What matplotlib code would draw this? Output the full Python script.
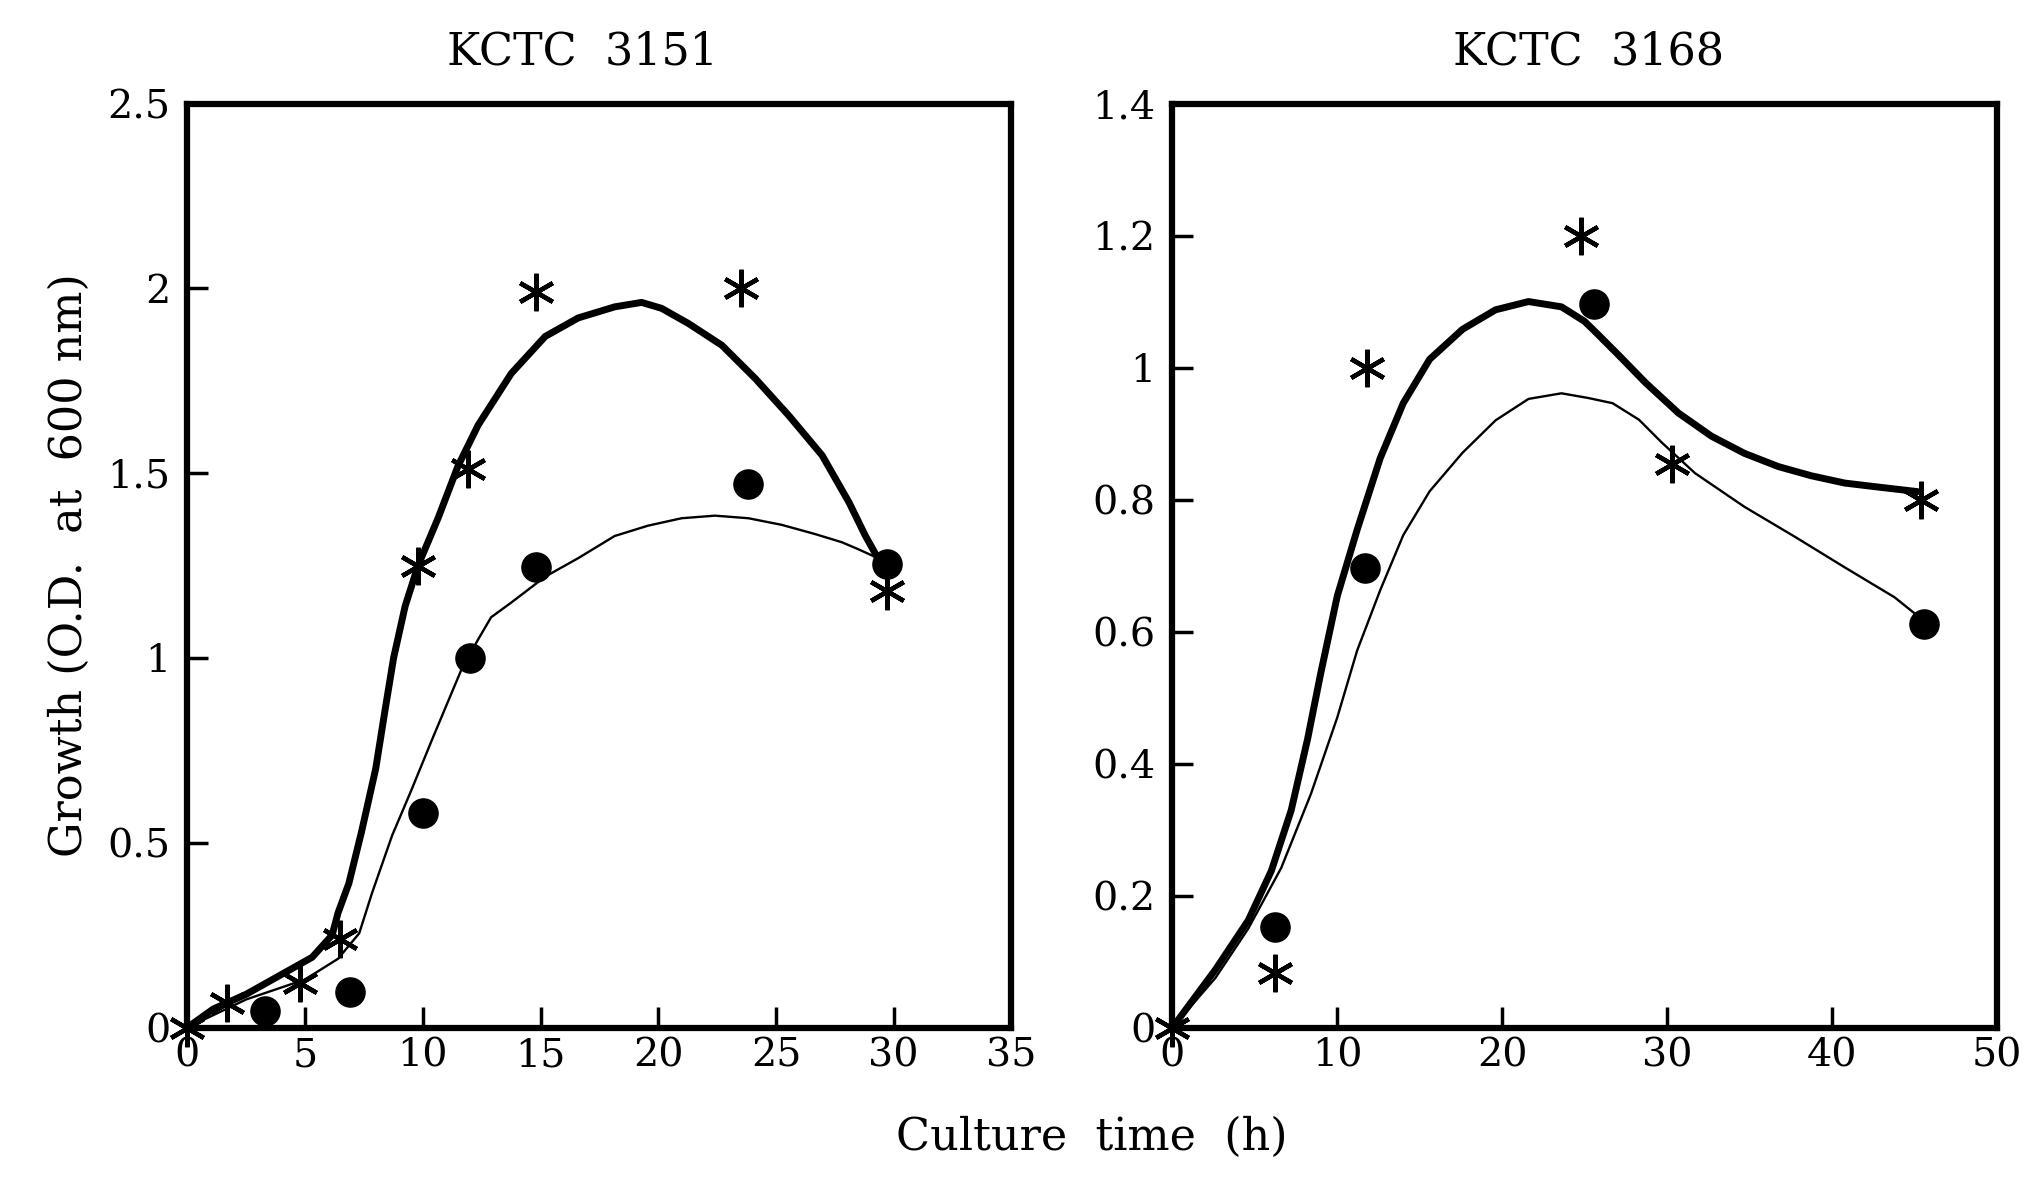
import matplotlib
matplotlib.use("Agg")
import matplotlib.pyplot as plt

plt.rcParams['font.family'] = ['DejaVu Serif']

# KCTC 3151 - measured points
a_star_x = [0, 1.7, 4.8, 6.5, 9.8, 11.9, 14.8, 23.5, 29.7]
a_star_y = [0, 0.065, 0.12, 0.24, 1.25, 1.51, 1.99, 2.0, 1.18]
a_dot_x = [3.3, 6.9, 10.0, 12.0, 14.8, 23.8, 29.7]
a_dot_y = [0.045, 0.095, 0.58, 1.0, 1.245, 1.47, 1.255]

# KCTC 3151 - hand-drawn curves
a_thick_x = [0, 1.1, 2.5, 3.9, 5.3, 6.15, 6.4, 6.86, 7.4, 8.0, 8.4, 8.76, 9.25, 9.8,
             10.66, 11.5, 12.35, 13.76, 15.2, 16.6, 18.15, 19.29, 20.14, 21.28,
             22.7, 24.12, 25.54, 26.96, 28.1, 28.8, 29.5]
a_thick_y = [0, 0.05, 0.09, 0.14, 0.19, 0.25, 0.31, 0.39, 0.53, 0.70, 0.86, 1.0, 1.14, 1.25,
             1.38, 1.52, 1.63, 1.77, 1.87, 1.92, 1.95, 1.962, 1.946, 1.905,
             1.846, 1.756, 1.656, 1.548, 1.421, 1.33, 1.25]
a_thin_x = [0, 2.5, 5.0, 6.4, 7.3, 7.85, 8.7, 9.5, 10.4, 11.65, 12.35, 12.9, 13.76,
            15.2, 16.6, 18.15, 19.57, 20.99, 22.41, 23.83, 25.25, 26.67, 27.8, 28.5, 29.5]
a_thin_y = [0, 0.076, 0.13, 0.186, 0.255, 0.365, 0.52, 0.64, 0.78, 0.97, 1.05, 1.11, 1.15,
            1.22, 1.27, 1.33, 1.358, 1.378, 1.385, 1.378, 1.36, 1.335, 1.313, 1.294, 1.265]

# KCTC 3168 - measured points
b_star_x = [0, 6.2, 11.8, 24.8, 30.3, 45.4]
b_star_y = [0, 0.083, 1.0, 1.2, 0.854, 0.80]
b_dot_x = [6.2, 11.7, 25.6, 45.6]
b_dot_y = [0.152, 0.696, 1.097, 0.612]

# KCTC 3168 - hand-drawn curves
b_thick_x = [0, 2.6, 4.6, 6.0, 7.2, 8.2, 9.0, 10.0, 11.2, 12.6, 14.0, 15.6, 17.6, 19.6,
             21.6, 23.6, 25.0, 25.7, 27.1, 28.7, 30.7, 32.7, 34.7, 36.75, 38.76,
             40.78, 42.79, 45.2]
b_thick_y = [0, 0.0875, 0.1625, 0.2375, 0.329, 0.4375, 0.5375, 0.654, 0.754, 0.8625,
             0.946, 1.0125, 1.058, 1.0875, 1.1, 1.092, 1.07, 1.053, 1.018, 0.977, 0.931,
             0.896, 0.87, 0.85, 0.836, 0.825, 0.819, 0.812]
b_thin_x = [0, 2.6, 4.6, 6.6, 8.4, 10.0, 11.2, 12.6, 14.0, 15.6, 17.6, 19.6, 21.6, 23.6,
            25.2, 26.7, 28.3, 29.7, 31.7, 34.7, 37.8, 40.8, 43.8, 45.5]
b_thin_y = [0, 0.075, 0.15, 0.242, 0.354, 0.47, 0.571, 0.6625, 0.746, 0.8125, 0.871,
            0.92, 0.9525, 0.961, 0.954, 0.946, 0.921, 0.886, 0.84, 0.789, 0.743, 0.697,
            0.652, 0.618]

a_xticks = [0, 5, 10, 15, 20, 25, 30, 35]
a_yticks = [0, 0.5, 1, 1.5, 2, 2.5]
a_ylabels = ['0', '0.5', '1', '1.5', '2', '2.5']
b_xticks = [0, 10, 20, 30, 40, 50]
b_yticks = [0, 0.2, 0.4, 0.6, 0.8, 1, 1.2, 1.4]
b_ylabels = ['0', '0.2', '0.4', '0.6', '0.8', '1', '1.2', '1.4']

fig = plt.figure(figsize=(20.25, 11.77), dpi=100)
ax1 = fig.add_axes([0.0925, 0.127, 0.407, 0.785])
ax2 = fig.add_axes([0.579, 0.127, 0.407, 0.785])

star = (6, 2, 0)


def panel(ax, thick_x, thick_y, thin_x, thin_y, sx, sy, dx, dy, title,
          xt, yt, yl, xmax, ymax, tx):
    ax.plot(thick_x, thick_y, color='black', lw=5, solid_joinstyle='round',
            solid_capstyle='round')
    ax.plot(thin_x, thin_y, color='black', lw=1.7, solid_joinstyle='round')
    ax.plot(dx, dy, 'o', color='black', ms=21, clip_on=False, zorder=5)
    ax.plot(sx, sy, linestyle='none', marker=star, color='black', ms=27,
            mew=3.2, clip_on=False, zorder=6)
    ax.set_xlim(0, xmax)
    ax.set_ylim(0, ymax)
    ax.set_xticks(xt)
    ax.set_xticklabels([str(v) for v in xt])
    ax.set_yticks(yt)
    ax.set_yticklabels(yl)
    ax.tick_params(direction='in', length=15, width=2.5, labelsize=28.5,
                   top=False, right=False)
    ax.tick_params(axis='y', pad=12)
    ax.tick_params(axis='x', pad=7)
    for s in ax.spines.values():
        s.set_linewidth(4.5)
    ax.set_title(title, fontsize=32, pad=28, x=tx)


panel(ax1, a_thick_x, a_thick_y, a_thin_x, a_thin_y, a_star_x, a_star_y,
      a_dot_x, a_dot_y, 'KCTC  3151', a_xticks, a_yticks, a_ylabels, 35, 2.5, 0.48)
panel(ax2, b_thick_x, b_thick_y, b_thin_x, b_thin_y, b_star_x, b_star_y,
      b_dot_x, b_dot_y, 'KCTC  3168', b_xticks, b_yticks, b_ylabels, 50, 1.4, 0.505)

ax1.set_ylabel('Growth (O.D.  at  600 nm)', fontsize=32, labelpad=12)
fig.text(0.539, 0.023, 'Culture  time  (h)', fontsize=32, ha='center')

fig.savefig('out.png', dpi=100)
